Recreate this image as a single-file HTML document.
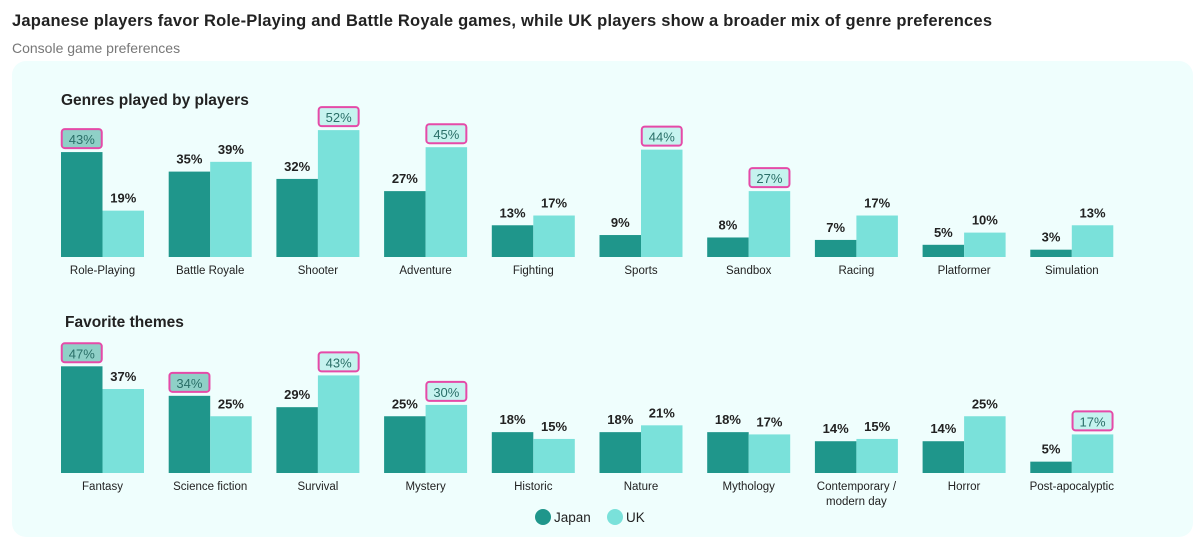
<!DOCTYPE html>
<html><head><meta charset="utf-8"><style>
body{margin:0;width:1200px;height:545px;background:#fff;font-family:"Liberation Sans",sans-serif;overflow:hidden}
</style></head><body>
<svg width="1200" height="545" id="svg" font-family="Liberation Sans, sans-serif">
<text x="12" y="26" font-size="16.5" font-weight="bold" fill="#222" textLength="980">Japanese players favor Role-Playing and Battle Royale games, while UK players show a broader mix of genre preferences</text>
<text x="12" y="53" font-size="14" fill="#777">Console game preferences</text>
<rect x="12" y="61" width="1181" height="476" rx="14" fill="#effefd"/>
<text x="61" y="105" font-size="15.5" font-weight="bold" fill="#222">Genres played by players</text>
<text x="65" y="327" font-size="15.5" font-weight="bold" fill="#222">Favorite themes</text>
<g id="top"></g><g id="bot"></g>
<circle cx="543" cy="517" r="8" fill="#1f968b"/>
<text x="554" y="522" font-size="13.5" fill="#222">Japan</text>
<circle cx="615" cy="517" r="8" fill="#7ae1da"/>
<text x="626" y="522" font-size="13.5" fill="#222">UK</text>
</svg>
<script>
const genres=["Role-Playing","Battle Royale","Shooter","Adventure","Fighting","Sports","Sandbox","Racing","Platformer","Simulation"];
const genreJapan=[43,35,32,27,13,9,8,7,5,3];
const genreUK=[19,39,52,45,17,44,27,17,10,13];
const genreHiJ=[0];
const genreHiU=[2,3,5,6];
const themes=["Fantasy","Science fiction","Survival","Mystery","Historic","Nature","Mythology","Contemporary /\nmodern day","Horror","Post-apocalyptic"];
const themeJapan=[47,34,29,25,18,18,18,14,14,5];
const themeUK=[37,25,43,30,15,21,17,15,25,17];
const themeHiJ=[0,1];
const themeHiU=[2,3,9];
const NS="http://www.w3.org/2000/svg";
function mk(t,a,p){const e=document.createElementNS(NS,t);for(const k in a)e.setAttribute(k,a[k]);p.appendChild(e);return e;}
function draw(gid,cats,J,U,hJ,hU,base,scale,labY){
  const g=document.getElementById(gid);
  const x0=61,pitch=107.7,bw=41.5;
  cats.forEach((c,i)=>{
    const gx=x0+i*pitch;
    [[J,0,"#1f968b",hJ,"#8fd0c7","japan"],[U,1,"#7ae1da",hU,"#c6f3ef","uk"]].forEach(([arr,k,col,hi,hcol,nm])=>{
      const v=arr[i],h=v*scale,x=gx+k*bw;
      const r=mk('rect',{x:x,y:base-h,width:bw,height:h,fill:col},g);
      
      
      const cx=x+bw/2,ty=base-h-8;
      if(hi.includes(i)){
        const b=mk('rect',{x:cx-20,y:ty-15,width:40,height:19,rx:3,fill:hcol,stroke:"#e54aa8","stroke-width":2},g);
        
        
      }
      const t=mk('text',{x:cx,y:ty,"text-anchor":"middle","font-size":13,"font-weight":hi.includes(i)?"normal":"bold",fill:hi.includes(i)?"#2a6f68":"#222"},g);
      t.textContent=v+"%";
      
      
    });
    c.split("\n").forEach((ln,j)=>{
      const t=mk('text',{x:gx+bw,y:labY+j*15,"text-anchor":"middle","font-size":11.5,fill:"#222"},g);
      t.textContent=ln;
      
      
    });
  });
}
draw("top",genres,genreJapan,genreUK,genreHiJ,genreHiU,257,2.44,274);
draw("bot",themes,themeJapan,themeUK,themeHiJ,themeHiU,473,2.27,490);
</script>
</body></html>
